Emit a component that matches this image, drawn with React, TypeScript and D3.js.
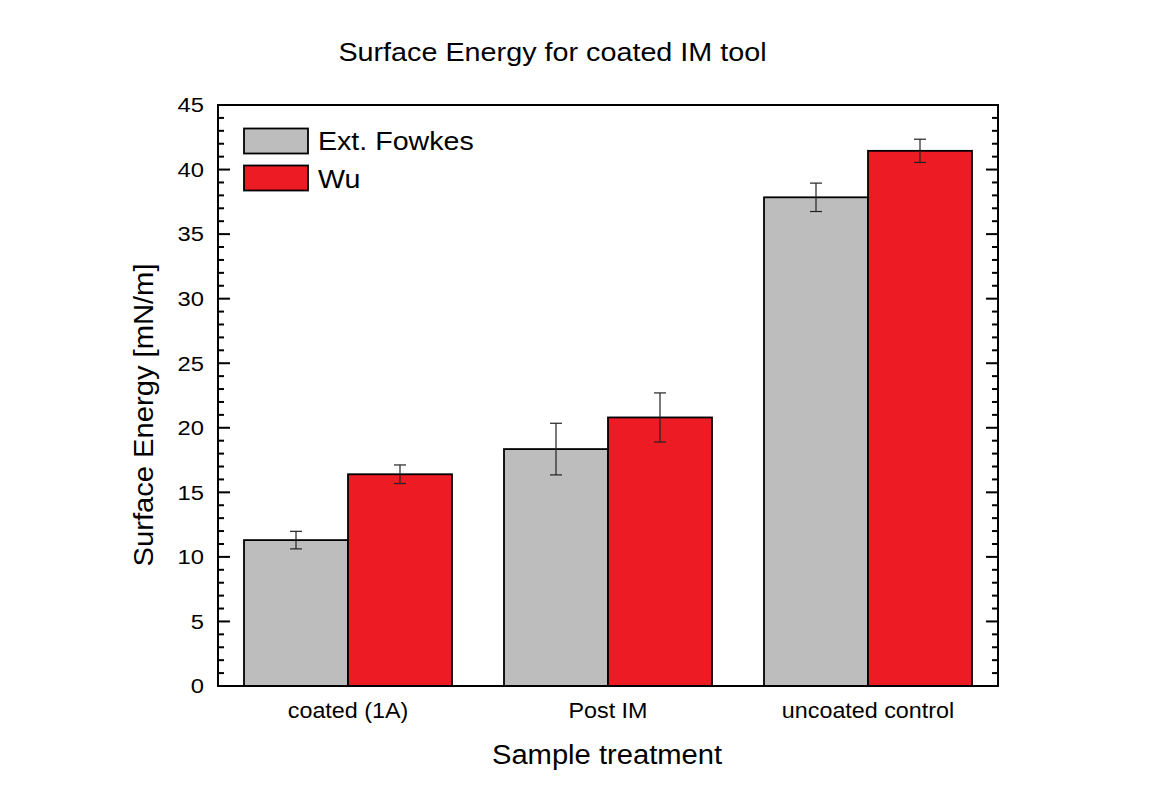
import React from "react";
import * as d3 from "d3";

const categories = ["coated (1A)", "Post IM", "uncoated control"];
const seriesNames = ["Ext. Fowkes", "Wu"];
const fowkesValues = [11.3, 18.35, 37.85];
const fowkesErrors = [0.68, 2.0, 1.1];
const wuValues = [16.4, 20.8, 41.45];
const wuErrors = [0.72, 1.9, 0.9];
const yTicks = [0, 5, 10, 15, 20, 25, 30, 35, 40, 45];
const seriesColors = ["#bdbdbd", "#ed1c24"];

export default function App() {
  const W = 1152, H = 791;
  const left = 218, right = 998, top = 105, bottom = 686;
  const font = "Liberation Sans, Arial, sans-serif";
  const y = d3.scaleLinear().domain([0, 45]).range([bottom, top]);
  const x = d3.scaleBand<string>().domain(categories).range([left, right]).paddingInner(0.2).paddingOuter(0.1);
  const xs = d3.scaleBand<string>().domain(seriesNames).range([0, x.bandwidth()]);
  const series = [
    { name: seriesNames[0], values: fowkesValues, errors: fowkesErrors, color: seriesColors[0] },
    { name: seriesNames[1], values: wuValues, errors: wuErrors, color: seriesColors[1] },
  ];
  const minor = d3.range(0, 46, 1).filter((v) => v % 5 !== 0);
  return (
    <svg width={W} height={H} style={{ display: "block", position: "absolute", left: 0, top: 0, background: "#fff" }}>
      <rect x={0} y={0} width={W} height={H} fill="#fff" />
      <text transform="translate(552.5,61) scale(1.15,1)" textAnchor="middle" fontFamily={font} fontSize={25} fill="#000">Surface Energy for coated IM tool</text>
      {series.map((s) =>
        categories.map((c, i) => {
          const bx = (x(c) as number) + (xs(s.name) as number);
          const bw = xs.bandwidth();
          const cx = bx + bw / 2;
          return (
            <g key={s.name + c}>
              <rect x={bx} y={y(s.values[i])} width={bw} height={bottom - y(s.values[i])} fill={s.color} stroke="#000" strokeWidth={1.8} />
              <line x1={cx} x2={cx} y1={y(s.values[i] + s.errors[i])} y2={y(s.values[i] - s.errors[i])} stroke="#222" strokeWidth={1.2} />
              <line x1={cx - 6} x2={cx + 6} y1={y(s.values[i] + s.errors[i])} y2={y(s.values[i] + s.errors[i])} stroke="#222" strokeWidth={1.2} />
              <line x1={cx - 6} x2={cx + 6} y1={y(s.values[i] - s.errors[i])} y2={y(s.values[i] - s.errors[i])} stroke="#222" strokeWidth={1.2} />
            </g>
          );
        })
      )}
      <rect x={left} y={top} width={right - left} height={bottom - top} fill="none" stroke="#000" strokeWidth={2} />
      {yTicks.map((t) => (
        <g key={"t" + t}>
          <line x1={left} x2={left + 12} y1={y(t)} y2={y(t)} stroke="#000" strokeWidth={2} />
          <line x1={right} x2={right - 12} y1={y(t)} y2={y(t)} stroke="#000" strokeWidth={2} />
          <text transform={`translate(204,${y(t) + 7.3}) scale(1.17,1)`} textAnchor="end" fontFamily={font} fontSize={20.3} fill="#000">{t}</text>
        </g>
      ))}
      {minor.map((t) => (
        <g key={"m" + t}>
          <line x1={left} x2={left + 6} y1={y(t)} y2={y(t)} stroke="#000" strokeWidth={2} />
          <line x1={right} x2={right - 6} y1={y(t)} y2={y(t)} stroke="#000" strokeWidth={2} />
        </g>
      ))}
      {categories.map((c) => (
        <text key={c} transform={`translate(${(x(c) as number) + x.bandwidth() / 2},718) scale(1.1,1)`} textAnchor="middle" fontFamily={font} fontSize={21.2} fill="#000">{c}</text>
      ))}
      <text transform="translate(607,764) scale(1.08,1)" textAnchor="middle" fontFamily={font} fontSize={27} fill="#000">Sample treatment</text>
      <text transform="translate(153, 415) rotate(-90) scale(1.08,1)" textAnchor="middle" fontFamily={font} fontSize={27} fill="#000">Surface Energy [mN/m]</text>
      {series.map((s, i) => (
        <g key={"lg" + s.name}>
          <rect x={244} y={128.5 + i * 37} width={64} height={25} fill={s.color} stroke="#000" strokeWidth={1.8} />
          <text transform={`translate(318,${150 + i * 37.5}) scale(1.1,1)`} fontFamily={font} fontSize={26} fill="#000">{s.name}</text>
        </g>
      ))}
    </svg>
  );
}
